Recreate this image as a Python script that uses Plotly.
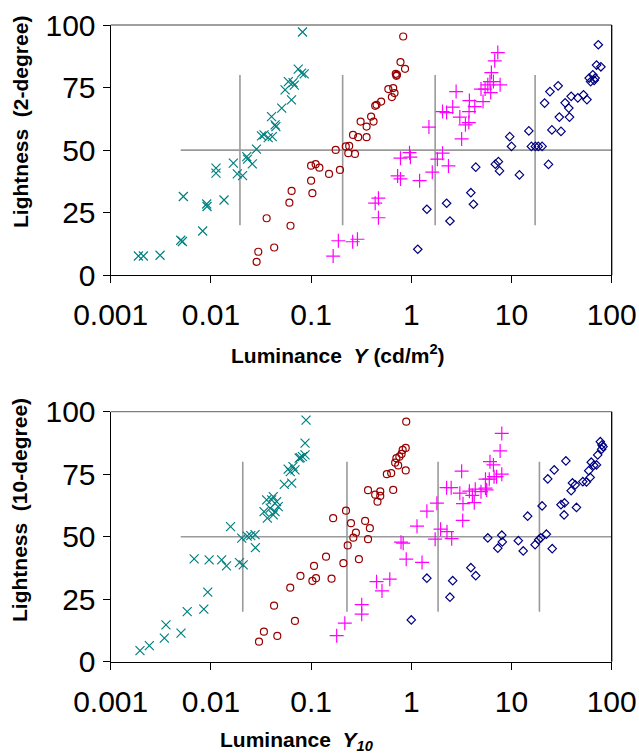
import plotly.graph_objects as go

# ---------------- Data: top panel (2-degree) ----------------
teal_top_x = [0.00189, 0.00212, 0.00311, 0.0050, 0.0052, 0.00531, 0.00828, 0.00908, 0.00915, 0.01124,
              0.01124, 0.01352, 0.01675, 0.01834, 0.0207, 0.0228, 0.0232, 0.0259, 0.0285, 0.0320,
              0.0339, 0.0373, 0.0410, 0.0403, 0.0437, 0.0445, 0.0509, 0.0550, 0.0593, 0.0637,
              0.0660, 0.0680, 0.0744, 0.0803, 0.0854, 0.0821]
teal_top_y = [7.7, 7.7, 8.0, 14.0, 13.5, 31.5, 17.7, 28.5, 27.5, 42.8,
              40.8, 30.1, 44.8, 40.5, 39.8, 47.4, 46.4, 44.5, 50.4, 55.7,
              56.1, 55.0, 55.4, 63.4, 60.1, 59.4, 66.8, 74.1, 77.4, 70.1,
              77.0, 76.0, 82.4, 80.8, 80.5, 97.2]

maroon_top_x = [0.0286, 0.0297, 0.0360, 0.0428, 0.0607, 0.0639, 0.0623, 0.100, 0.100, 0.103,
                0.111, 0.121, 0.151, 0.176, 0.194, 0.222, 0.240, 0.235, 0.274, 0.262,
                0.295, 0.358, 0.312, 0.358, 0.397, 0.42, 0.436, 0.45, 0.50, 0.59,
                0.66, 0.64, 0.68, 0.70, 0.71, 0.72, 0.78, 0.866, 0.83]
maroon_top_y = [5.4, 9.4, 22.8, 11.1, 29.0, 33.7, 19.8, 43.8, 37.8, 32.8,
                44.4, 43.0, 40.5, 50.1, 42.1, 51.5, 51.7, 48.8, 48.5, 56.1,
                55.2, 55.2, 61.4, 59.4, 63.4, 61.4, 67.7, 68.1, 69.4, 74.4,
                74.8, 71.2, 72.8, 80.5, 79.7, 80.1, 85.2, 82.5, 95.4]

magenta_top_x = [0.166, 0.187, 0.26, 0.29, 0.436, 0.47, 0.47, 0.73, 0.78, 0.78,
                 0.96, 0.98, 1.21, 1.5, 1.62, 1.82, 2.05, 2.35, 2.05, 2.25,
                 2.59, 2.8, 3.05, 3.18, 3.47, 3.75, 3.77, 3.8, 4.3, 5.2,
                 4.96, 5.45, 5.8, 6.1, 6.3, 6.6, 6.2, 6.8, 7.3, 7.7]
magenta_top_y = [7.7, 13.8, 13.4, 14.4, 28.8, 30.8, 23.0, 39.7, 38.5, 46.8,
                 49.0, 47.2, 37.8, 59.2, 41.2, 46.4, 48.8, 43.7, 65.4, 65.0,
                 67.2, 73.4, 63.2, 54.5, 60.1, 61.0, 65.4, 69.8, 67.4, 69.4,
                 74.4, 74.4, 76.1, 77.4, 81.0, 77.4, 73.0, 85.7, 89.0, 76.1]

navy_top_x = [1.16, 1.43, 2.25, 2.43, 3.93, 4.17, 4.4, 6.9, 7.4, 7.6,
              9.6, 10.0, 12.0, 14.9, 15.8, 17.3, 18.5, 20.2, 23.4, 21.4,
              24.2, 29.2, 25.3, 31.2, 30.0, 37.9, 34.3, 37.3, 39.4, 45.9,
              52.3, 56.6, 59.6, 61.6, 64.8, 66.8, 68.3, 70.6, 78.0, 73.5]
navy_top_y = [10.4, 26.4, 28.8, 21.7, 33.0, 28.4, 43.2, 44.4, 45.4, 41.7,
              55.4, 51.5, 40.1, 57.7, 51.5, 51.5, 51.5, 51.5, 44.3, 68.8,
              73.4, 75.7, 58.1, 57.5, 63.2, 63.2, 68.9, 66.8, 71.5, 70.9,
              72.1, 70.2, 78.8, 77.4, 80.1, 77.9, 78.8, 84.0, 83.3, 92.1]

# ---------------- Data: bottom panel (10-degree) ----------------
teal_bot_x = [0.00196, 0.00243, 0.00343, 0.00356, 0.00503, 0.0058, 0.0068, 0.0085, 0.0093, 0.0096,
              0.0128, 0.0143, 0.0157, 0.0193, 0.021, 0.0203, 0.023, 0.025, 0.0276, 0.0278,
              0.0339, 0.0366, 0.0391, 0.0404, 0.036, 0.0419, 0.0453, 0.0437, 0.047, 0.0419,
              0.054, 0.064, 0.062, 0.059, 0.066, 0.069, 0.076, 0.078, 0.082, 0.087,
              0.087, 0.089]
teal_bot_y = [4.4, 6.4, 9.4, 14.7, 11.4, 20.0, 41.1, 21.0, 27.8, 40.7,
              40.7, 38.3, 54.0, 39.6, 38.7, 49.4, 50.2, 50.4, 50.8, 45.6,
              60.0, 57.4, 61.4, 64.7, 64.7, 66.0, 64.0, 60.0, 62.0, 58.7,
              70.9, 71.4, 76.0, 77.0, 78.0, 76.7, 81.4, 81.6, 82.0, 82.7,
              87.4, 96.6]

maroon_bot_x = [0.0302, 0.0338, 0.046, 0.0427, 0.069, 0.0619, 0.0783, 0.103, 0.112, 0.107,
                0.141, 0.16, 0.166, 0.21, 0.223, 0.232, 0.25, 0.264, 0.28, 0.30,
                0.346, 0.37, 0.386, 0.37, 0.436, 0.46, 0.49, 0.49, 0.57, 0.63,
                0.66, 0.69, 0.71, 0.74, 0.76, 0.80, 0.82, 0.88, 0.88, 0.89]
maroon_bot_y = [8.0, 12.0, 10.3, 22.4, 16.3, 29.6, 34.3, 32.3, 33.4, 38.3,
                42.0, 33.2, 57.4, 39.4, 60.4, 46.5, 55.4, 49.6, 51.6, 41.0,
                56.3, 49.0, 53.4, 68.6, 66.8, 64.0, 68.1, 66.3, 75.0, 75.4,
                68.7, 79.6, 81.4, 78.5, 82.0, 83.1, 84.7, 85.5, 76.5, 96.0]

magenta_bot_x = [0.18, 0.217, 0.32, 0.32, 0.45, 0.51, 0.61, 0.79, 0.83, 0.89,
                 1.14, 1.28, 1.43, 1.8, 1.73, 1.96, 2.27, 2.53, 2.25, 2.5,
                 3.18, 3.05, 3.28, 3.26, 3.8, 4.07, 4.25, 4.35, 4.96, 5.5,
                 5.65, 5.5, 6.1, 6.6, 6.7, 6.0, 7.1, 8.0, 7.7, 8.0]
magenta_bot_y = [10.4, 15.4, 22.8, 19.0, 32.0, 28.3, 33.0, 47.8, 47.4, 41.0,
                 54.2, 39.7, 60.2, 63.4, 49.0, 53.0, 52.0, 49.2, 69.6, 69.6,
                 76.2, 67.4, 63.2, 56.5, 68.2, 66.5, 63.6, 69.0, 68.0, 69.4,
                 68.7, 73.0, 80.0, 78.7, 74.0, 73.0, 74.0, 75.0, 84.3, 91.3]

navy_bot_x = [1.0, 1.43, 2.43, 2.59, 3.93, 4.4, 5.8, 7.3, 8.0, 8.1,
              11.7, 13.1, 17.2, 18.7, 19.6, 22.3, 25.5, 14.5, 20.2, 23.0,
              26.7, 34.9, 31.2, 33.8, 33.5, 44.5, 39.4, 40.6, 43.3, 51.5,
              56.0, 59.0, 61.0, 62.5, 66.2, 70.5, 72.5, 77.0, 80.0, 82.0, 79.5]
navy_bot_y = [16.7, 33.4, 25.8, 32.4, 37.6, 34.4, 49.5, 45.4, 50.6, 47.9,
              48.4, 44.3, 46.8, 48.8, 49.5, 51.0, 45.2, 58.2, 62.3, 73.1,
              76.7, 80.3, 62.8, 63.5, 58.7, 61.7, 68.4, 71.5, 70.7, 72.0,
              71.9, 76.4, 73.7, 79.8, 78.5, 78.7, 82.7, 88.0, 86.7, 86.0, 85.0]

# Reference lines
ref_h_x = [0.005, 100]
ref_h_level = 50
ref_v_top = [0.0195, 0.2065, 1.73, 17.2]
ref_v_bot = [0.0208, 0.228, 1.85, 19.0]
ref_v_span = [20, 80]

tick_vals = [0.001, 0.01, 0.1, 1, 10, 100]
tick_text = ["0.001", "0.01", "0.1", "1", "10", "100"]
ytick_vals = [0, 25, 50, 75, 100]

TEAL = "#008080"
MAROON = "#990000"
MAGENTA = "#FF00FF"
NAVY = "#000080"
REF = "#9a9a9a"

fig = go.Figure()


def add_panel(xa, ya, vlines, series):
    fig.add_trace(go.Scatter(x=ref_h_x, y=[ref_h_level, ref_h_level], mode="lines",
                             line=dict(color=REF, width=1.6), xaxis=xa, yaxis=ya,
                             hoverinfo="skip", showlegend=False))
    vx, vy = [], []
    for v in vlines:
        vx += [v, v, None]
        vy += [ref_v_span[0], ref_v_span[1], None]
    fig.add_trace(go.Scatter(x=vx, y=vy, mode="lines", line=dict(color=REF, width=1.6),
                             xaxis=xa, yaxis=ya, hoverinfo="skip", showlegend=False))
    for xs, ys, sym, col, size in series:
        fig.add_trace(go.Scatter(x=xs, y=ys, mode="markers", xaxis=xa, yaxis=ya,
                                 marker=dict(symbol=sym, size=size, color=col,
                                             line=dict(color=col, width=1.2)),
                                 showlegend=False))


add_panel("x", "y", ref_v_top, [
    (teal_top_x, teal_top_y, "x-thin-open", TEAL, 9),
    (maroon_top_x, maroon_top_y, "circle-open", MAROON, 7),
    (magenta_top_x, magenta_top_y, "cross-thin-open", MAGENTA, 10),
    (navy_top_x, navy_top_y, "diamond-open", NAVY, 6.5),
])
add_panel("x2", "y2", ref_v_bot, [
    (teal_bot_x, teal_bot_y, "x-thin-open", TEAL, 9),
    (maroon_bot_x, maroon_bot_y, "circle-open", MAROON, 7),
    (magenta_bot_x, magenta_bot_y, "cross-thin-open", MAGENTA, 10),
    (navy_bot_x, navy_bot_y, "diamond-open", NAVY, 6.5),
])

W, H = 639, 756
x_dom = [110.7 / W, 611.7 / W]
top_dom = [1 - 275.3 / H, 1 - 25 / H]
bot_dom = [1 - 661.7 / H, 1 - 411.7 / H]

FONT = "Liberation Sans, Arial, Helvetica, sans-serif"

xaxis_common = dict(type="log", range=[-3, 2], tickvals=tick_vals, ticktext=tick_text,
                    showgrid=False, zeroline=False, showline=True, linecolor="black",
                    linewidth=1.3, ticks="outside", ticklen=7, tickwidth=1.3,
                    tickcolor="black", ticklabelstandoff=6, automargin=False,
                    tickfont=dict(family=FONT, size=30, color="black"))
yaxis_common = dict(range=[0, 100], tickvals=ytick_vals, showgrid=False, zeroline=False,
                    showline=True, linecolor="black", linewidth=1.3, ticks="outside",
                    ticklen=7, tickwidth=1.3, tickcolor="black", ticklabelstandoff=1,
                    automargin=False,
                    tickfont=dict(family=FONT, size=30, color="black"))

fig.update_layout(
    width=W, height=H,
    margin=dict(l=0, r=0, t=0, b=0),
    paper_bgcolor="white", plot_bgcolor="white",
    xaxis=dict(domain=x_dom, anchor="y", **xaxis_common),
    yaxis=dict(domain=top_dom, anchor="x", **yaxis_common),
    xaxis2=dict(domain=x_dom, anchor="y2", **xaxis_common),
    yaxis2=dict(domain=bot_dom, anchor="x2", **yaxis_common),
    showlegend=False,
)

for xr, yr in (("x domain", "y domain"), ("x2 domain", "y2 domain")):
    fig.add_shape(type="line", xref=xr, yref=yr, x0=0, x1=1, y0=1, y1=1,
                  line=dict(color="#7f7f7f", width=1.3))
    fig.add_shape(type="line", xref=xr, yref=yr, x0=1, x1=1, y0=0, y1=1,
                  line=dict(color="black", width=1.3))

title_font = dict(family=FONT, size=21, color="black")
fig.add_annotation(text="<b>Luminance  <i>Y</i> (cd/m<sup>2</sup>)</b>", xref="paper", yref="paper",
                   x=338 / W, y=1 - 354 / H, xanchor="center", yanchor="middle",
                   showarrow=False, font=title_font)
fig.add_annotation(text="<b>Luminance  <i>Y<sub>10</sub></i></b>", xref="paper", yref="paper",
                   x=297 / W, y=1 - 741 / H, xanchor="center", yanchor="middle",
                   showarrow=False, font=title_font)
fig.add_annotation(text="<b>Lightness\u00a0 (2-degree)</b>", xref="paper", yref="paper",
                   x=20 / W, y=1 - 122 / H, xanchor="center", yanchor="middle",
                   textangle=-90, showarrow=False, font=title_font)
fig.add_annotation(text="<b>Lightness\u00a0 (10-degree)</b>", xref="paper", yref="paper",
                   x=19 / W, y=1 - 510 / H, xanchor="center", yanchor="middle",
                   textangle=-90, showarrow=False, font=title_font)

fig.write_html("out.html", config={"displayModeBar": False},
               post_script="document.body.style.margin='0px';"
                           "document.body.style.overflow='hidden';")
